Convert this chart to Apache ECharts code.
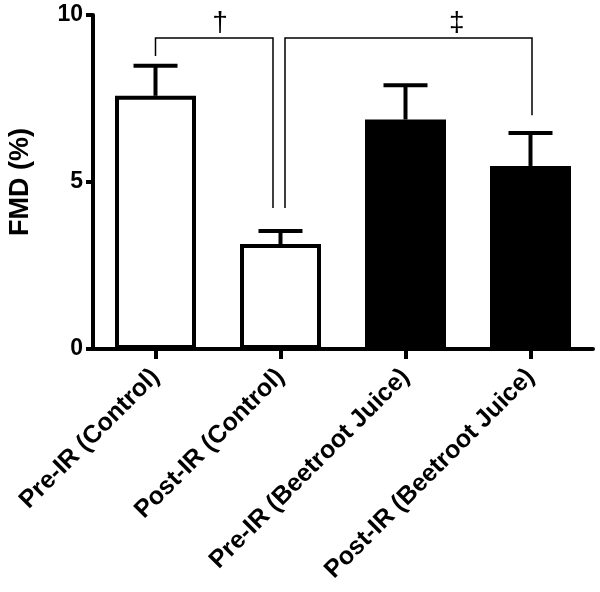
<!DOCTYPE html>
<html>
<head>
<meta charset="utf-8">
<script src="https://cdn.jsdelivr.net/npm/echarts@6/dist/echarts.min.js"></script>
<style>
html,body{margin:0;padding:0;background:#fff;}
#chart{width:600px;height:592px;}
</style>
</head>
<body>
<div id="chart"></div>
<script>
// ---- data ----
const categories = ['Pre-IR (Control)', 'Post-IR (Control)', 'Pre-IR (Beetroot Juice)', 'Post-IR (Beetroot Juice)'];
const fmdMean = [7.58, 3.14, 6.87, 5.48];
const fmdSem = [0.9, 0.39, 1.03, 0.99];
const yTicks = [0, 5, 10];
const yAxisTitle = 'FMD (%)';
// significance brackets: category positions (fractional) and heights in FMD units
const bracketFrom = [0.0, 1.036];
const bracketTo = [0.94, 3.012];
const bracketLevel = [9.31, 9.31];
const bracketDropFrom = [8.77, 4.22];
const bracketDropTo = [4.22, 7.0];
const bracketMark = ['\u2020', '\u2021'];
const bracketMarkAt = [0.516, 2.41];

const chart = echarts.init(document.getElementById('chart'));
const FONT = '"Liberation Sans", Arial, sans-serif';

function xAt(api, pos) {
  const i = Math.max(0, Math.min(categories.length - 2, Math.floor(pos)));
  const a = api.coord([i, 0])[0];
  const b = api.coord([i + 1, 0])[0];
  return a + (b - a) * (pos - i);
}

const bracketData = bracketFrom.map((f, i) => [f, bracketTo[i], bracketLevel[i], bracketDropFrom[i], bracketDropTo[i], bracketMarkAt[i], i]);

chart.setOption({
  animation: false,
  backgroundColor: '#fff',
  grid: { left: 93, right: 7, top: 15, bottom: 243, containLabel: false, outerBoundsMode: 'none' },
  xAxis: {
    type: 'category',
    data: categories,
    axisLine: { lineStyle: { color: '#000', width: 4 } },
    axisTick: { show: true, length: 10, lineStyle: { color: '#000', width: 4 }, alignWithLabel: true },
    axisLabel: { interval: 0, rotate: 45, margin: 24, color: '#000', fontSize: 25, fontWeight: 'bold', fontFamily: FONT },
    splitLine: { show: false }
  },
  yAxis: {
    type: 'value',
    min: yTicks[0], max: yTicks[yTicks.length - 1], interval: yTicks[1] - yTicks[0],
    name: yAxisTitle,
    nameLocation: 'middle',
    nameGap: 59,
    nameTextStyle: { color: '#000', fontSize: 27, fontWeight: 'bold', fontFamily: FONT },
    axisLine: { show: true, lineStyle: { color: '#000', width: 4 } },
    axisTick: { show: true, length: 7, lineStyle: { color: '#000', width: 4 } },
    axisLabel: { margin: 10, color: '#000', fontSize: 23, fontWeight: 'bold', fontFamily: FONT },
    splitLine: { show: false }
  },
  series: [
    {
      type: 'bar',
      barWidth: 81,
      data: fmdMean.map((v, i) => ({
        value: v,
        itemStyle: { color: i < 2 ? '#fff' : '#000', borderColor: '#000', borderWidth: 4 }
      })),
      z: 2
    },
    {
      type: 'custom',
      z: 3,
      data: fmdMean.map((v, i) => [i, v, v + fmdSem[i]]),
      renderItem: function (params, api) {
        const base = api.coord([api.value(0), api.value(1)]);
        const top = api.coord([api.value(0), api.value(2)]);
        const half = 22;
        return {
          type: 'group',
          children: [
            { type: 'line', shape: { x1: base[0], y1: base[1], x2: top[0], y2: top[1] }, style: { stroke: '#000', lineWidth: 4 } },
            { type: 'line', shape: { x1: top[0] - half, y1: top[1], x2: top[0] + half, y2: top[1] }, style: { stroke: '#000', lineWidth: 4 } }
          ]
        };
      }
    },
    {
      type: 'custom',
      z: 4,
      data: bracketData,
      renderItem: function (params, api) {
        const x0 = xAt(api, api.value(0));
        const x1 = xAt(api, api.value(1));
        const yl = api.coord([0, api.value(2)])[1];
        const yd0 = api.coord([0, api.value(3)])[1];
        const yd1 = api.coord([0, api.value(4)])[1];
        const xm = xAt(api, api.value(5));
        const idx = api.value(6);
        return {
          type: 'group',
          children: [
            { type: 'polyline', shape: { points: [[x0, yd0], [x0, yl], [x1, yl], [x1, yd1]] }, style: { stroke: '#000', lineWidth: 1.5, fill: null } },
            { type: 'text', style: { x: xm, y: yl - 15, text: bracketMark[idx], fill: '#000', font: '28px ' + FONT, align: 'center', verticalAlign: 'middle' } }
          ]
        };
      }
    }
  ]
});
</script>
</body>
</html>
